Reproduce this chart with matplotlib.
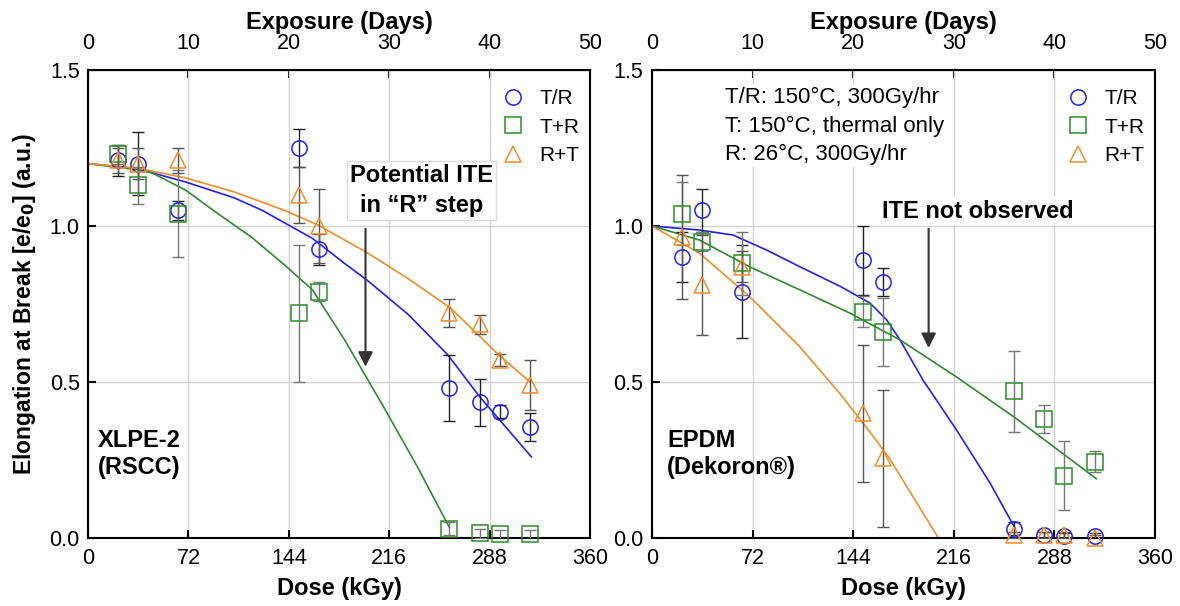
import numpy as np
import matplotlib
matplotlib.use("Agg")
import matplotlib.pyplot as plt

plt.rcParams['font.family'] = ['Liberation Sans', 'DejaVu Sans']

# exposure days for each measurement (300 Gy/hr -> 7.2 kGy/day)
days = [3, 5, 9, 21, 23, 36, 39, 41, 44]
kgy_per_day = 7.2

# XLPE-2 (RSCC) data
xlpe_tr = [1.21, 1.20, 1.05, 1.25, 0.925, 0.48, 0.435, 0.405, 0.355]
xlpe_tr_err = [0.05, 0.10, 0.03, 0.06, 0.05, 0.105, 0.075, 0.02, 0.045]
xlpe_tpr = [1.23, 1.13, 1.04, 0.72, 0.79, 0.03, 0.015, 0.012, 0.012]
xlpe_tpr_err = [0.03, 0.06, 0.14, 0.22, 0.03, 0.02, 0.015, 0.015, 0.015]
xlpe_rpt = [1.21, 1.20, 1.21, 1.10, 1.00, 0.72, 0.685, 0.57, 0.49]
xlpe_rpt_err = [0.04, 0.05, 0.04, 0.09, 0.12, 0.045, 0.03, 0.02, 0.08]

# XLPE-2 fit curves (dose kGy, value)
xlpe_tr_fit_x = [0, 36, 70, 105, 125, 141, 161, 184, 200, 230, 258, 281, 318]
xlpe_tr_fit_y = [1.20, 1.183, 1.141, 1.09, 1.05, 1.01, 0.96, 0.88, 0.827, 0.715, 0.587, 0.452, 0.26]
xlpe_tpr_fit_x = [0, 36, 46, 70, 93, 117, 141, 161, 184, 212, 236, 259]
xlpe_tpr_fit_y = [1.20, 1.18, 1.17, 1.115, 1.04, 0.965, 0.875, 0.795, 0.635, 0.42, 0.23, 0.035]
xlpe_rpt_fit_x = [0, 36, 70, 105, 141, 165, 184, 200, 230, 260, 295, 317]
xlpe_rpt_fit_y = [1.20, 1.185, 1.154, 1.109, 1.05, 1.003, 0.955, 0.915, 0.83, 0.737, 0.585, 0.50]

# EPDM (Dekoron) data
epdm_tr = [0.90, 1.05, 0.79, 0.89, 0.82, 0.03, 0.01, 0.005, 0.005]
epdm_tr_err = [0.08, 0.07, 0.15, 0.11, 0.045, 0.02, 0.01, 0.01, 0.01]
epdm_tpr = [1.04, 0.95, 0.88, 0.725, 0.66, 0.47, 0.38, 0.20, 0.245]
epdm_tpr_err = [0.10, 0.03, 0.10, 0.05, 0.11, 0.13, 0.045, 0.11, 0.035]
epdm_rpt = [0.965, 0.81, 0.87, 0.40, 0.255, 0.01, 0.01, 0.01, 0.0]
epdm_rpt_err = [0.20, 0.16, 0.05, 0.22, 0.22, 0.01, 0.01, 0.01, 0.01]

epdm_tr_fit_x = [0, 34, 58, 82, 106, 135, 156, 168, 177.5, 194, 218, 242, 260]
epdm_tr_fit_y = [1.0, 0.987, 0.971, 0.923, 0.869, 0.806, 0.753, 0.699, 0.635, 0.506, 0.346, 0.176, 0.03]
epdm_tpr_fit_x = [0, 34, 70, 106, 142, 177.5, 218, 260, 318]
epdm_tpr_fit_y = [1.0, 0.955, 0.869, 0.795, 0.72, 0.635, 0.516, 0.385, 0.19]
epdm_rpt_fit_x = [0, 34, 70, 106, 135, 156, 170, 205]
epdm_rpt_fit_y = [1.0, 0.913, 0.773, 0.612, 0.46, 0.34, 0.255, 0.0]

labels = ['T/R', 'T+R', 'R+T']
markers = ['o', 's', '^']
colors = ['#2222ee', '#2e8b2e', '#f28e2b']
ecolors = ['#222222', '#777777', '#555555']

dose = np.array(days) * kgy_per_day

fig = plt.figure(figsize=(11.8, 6.06), dpi=100)
ax1 = fig.add_axes([0.0746, 0.1122, 0.4254, 0.7723])
ax2 = fig.add_axes([0.5525, 0.1122, 0.4263, 0.7723])


def draw_panel(ax, series, errs, fits):
    for i in range(3):
        ax.plot(fits[i][0], fits[i][1], color=colors[i], lw=1.2, zorder=2)
        ax.errorbar(dose, series[i], yerr=errs[i], fmt='none', ecolor=ecolors[i],
                    elinewidth=1.0, capsize=4, capthick=1.0, zorder=3)
        ax.plot(dose, series[i], ls='none', marker=markers[i], ms=11, mfc='none',
                mec=colors[i], mew=1.1, label=labels[i], zorder=4, clip_on=False)
    ax.set_xlim(0, 360)
    ax.set_ylim(0, 1.5)
    ax.set_xticks(np.arange(0, 361, 72))
    ax.set_yticks([0.0, 0.5, 1.0, 1.5])
    ax.grid(True, color='#d3d3d3', lw=1.0, zorder=0)
    ax.set_axisbelow(True)
    ax.tick_params(direction='in', length=6, width=1.5, labelsize=15.5, top=False)
    ax.tick_params(axis='x', pad=7)
    ax.tick_params(axis='y', pad=6)
    for s in ax.spines.values():
        s.set_linewidth(1.5)
    ax.set_xlabel('Dose (kGy)', fontsize=17, fontweight='bold', labelpad=6)
    sec = ax.secondary_xaxis('top', functions=(lambda x: x / kgy_per_day,
                                               lambda d: d * kgy_per_day))
    sec.set_xticks(np.arange(0, 51, 10))
    sec.tick_params(direction='in', length=6, width=1.5, labelsize=15.5, pad=11.5)
    sec.set_xlabel('Exposure (Days)', fontsize=17, fontweight='bold', labelpad=3)
    ax.legend(loc='upper right', bbox_to_anchor=(1.008, 0.99), frameon=False, fontsize=15,
              handlelength=1.5, handletextpad=0.5, labelspacing=0.45, borderaxespad=0.3)


draw_panel(ax1, [xlpe_tr, xlpe_tpr, xlpe_rpt], [xlpe_tr_err, xlpe_tpr_err, xlpe_rpt_err],
           [(xlpe_tr_fit_x, xlpe_tr_fit_y), (xlpe_tpr_fit_x, xlpe_tpr_fit_y),
            (xlpe_rpt_fit_x, xlpe_rpt_fit_y)])
draw_panel(ax2, [epdm_tr, epdm_tpr, epdm_rpt], [epdm_tr_err, epdm_tpr_err, epdm_rpt_err],
           [(epdm_tr_fit_x, epdm_tr_fit_y), (epdm_tpr_fit_x, epdm_tpr_fit_y),
            (epdm_rpt_fit_x, epdm_rpt_fit_y)])

ax1.set_ylabel('Elongation at Break [e/e$_\\mathbf{0}$] (a.u.)', fontsize=16.5,
               fontweight='bold', labelpad=8)

# annotations
ax1.annotate('', xy=(199, 0.54), xytext=(199, 1.0),
             arrowprops=dict(arrowstyle='-|>', color='#333333', lw=1.5, mutation_scale=22))
ax1.text(239, 1.115, 'Potential ITE\nin \u201cR\u201d step', ha='center', va='center',
         fontsize=17, fontweight='bold', linespacing=1.4,
         bbox=dict(boxstyle='square,pad=0.12', facecolor='white', edgecolor='#dddddd'))
ax1.text(7, 0.27, 'XLPE-2\n(RSCC)', ha='left', va='center', fontsize=17,
         fontweight='bold', linespacing=1.25)

ax2.annotate('', xy=(198, 0.60), xytext=(198, 1.0),
             arrowprops=dict(arrowstyle='-|>', color='#333333', lw=1.5, mutation_scale=22))
ax2.text(233, 1.048, 'ITE not observed', ha='center', va='center', fontsize=17,
         fontweight='bold', bbox=dict(boxstyle='square,pad=0.1', facecolor='white',
                                      edgecolor='none'))
ax2.text(52, 1.445, 'T/R: 150\u00b0C, 300Gy/hr\nT: 150\u00b0C, thermal only\nR: 26\u00b0C, 300Gy/hr',
         ha='left', va='top', fontsize=16, linespacing=1.45,
         bbox=dict(boxstyle='square,pad=0.1', facecolor='white', edgecolor='none'))
ax2.text(11, 0.27, 'EPDM\n(Dekoron\u00ae)', ha='left', va='center', fontsize=17,
         fontweight='bold', linespacing=1.25)

fig.savefig('out.png', dpi=100)
